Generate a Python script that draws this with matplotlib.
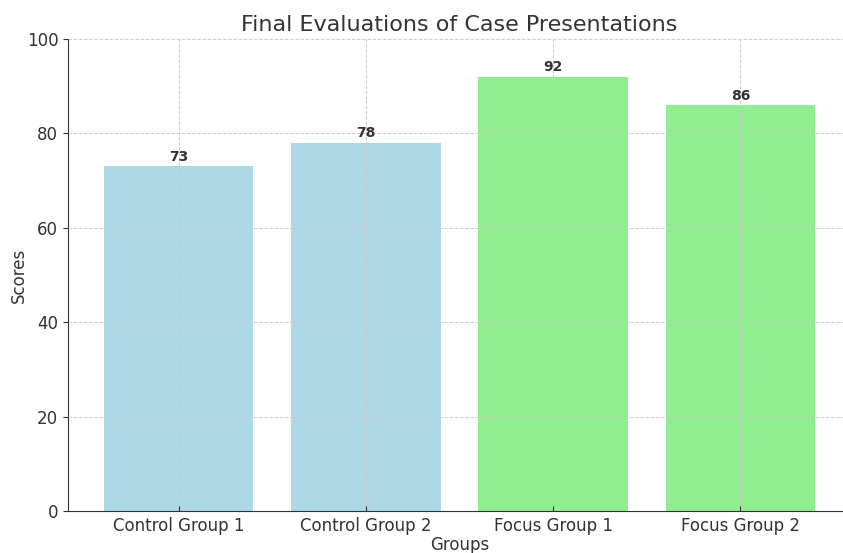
import matplotlib.pyplot as plt
import numpy as np

GROUPS = ["Control Group 1", "Control Group 2", "Focus Group 1", "Focus Group 2"]
SCORES = [73, 78, 92, 86]
BAR_COLORS = ["lightblue", "lightblue", "lightgreen", "lightgreen"]

TEXT_COLOR = "#333333"

plt.rcParams.update(
    {
        "font.family": "DejaVu Sans",
        "text.color": TEXT_COLOR,
        "axes.labelcolor": TEXT_COLOR,
        "axes.edgecolor": TEXT_COLOR,
        "xtick.color": TEXT_COLOR,
        "ytick.color": TEXT_COLOR,
    }
)

fig = plt.figure(figsize=(8.43, 5.53), dpi=100)
ax = fig.add_axes([68 / 843, 42 / 553, 783 / 843, 472 / 553])

x = np.arange(len(GROUPS))
bars = ax.bar(x, SCORES, color=BAR_COLORS, width=0.8, zorder=1)
for bar, value in zip(bars, SCORES):
    ax.text(
        bar.get_x() + bar.get_width() / 2.0,
        value + 0.5,
        f"{value}",
        ha="center",
        va="bottom",
        fontsize=10,
        fontweight="bold",
        color=TEXT_COLOR,
    )

ax.set_xticks(x)
ax.set_xticklabels(GROUPS, fontsize=12)
ax.tick_params(axis="x", direction="in", pad=4)
ax.set_ylim(0, 100)
ax.set_yticks([0, 20, 40, 60, 80, 100])
ax.tick_params(axis="y", labelsize=12)
ax.set_title("Final Evaluations of Case Presentations", fontsize=16, pad=6)
ax.set_xlabel("Groups", fontsize=12, labelpad=1)
ax.set_ylabel("Scores", fontsize=12, labelpad=-1)
ax.grid(True, linestyle="--", color="#c8c8c8", linewidth=0.7, alpha=0.9, zorder=2)
ax.set_axisbelow(False)
ax.spines["top"].set_visible(False)
ax.spines["right"].set_visible(False)

fig.savefig("out.png", dpi=100)
